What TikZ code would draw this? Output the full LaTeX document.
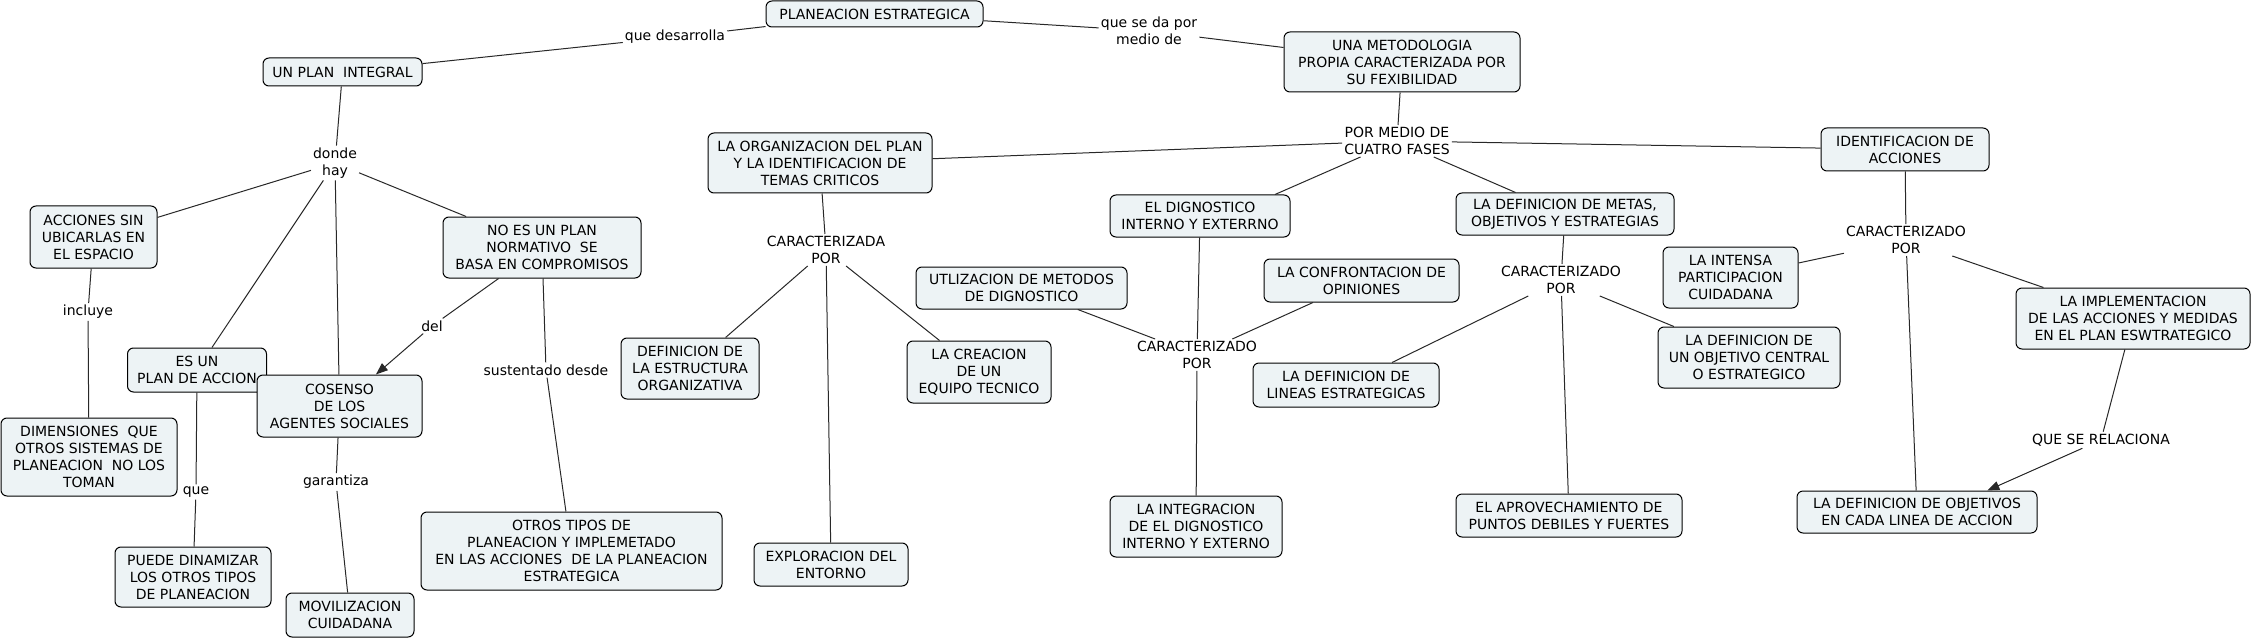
\documentclass[tikz,border=0pt]{standalone}
\usepackage{fontspec}
\setmainfont{DejaVu Sans}
\usetikzlibrary{arrows.meta}
\definecolor{boxfill}{RGB}{237,243,245}
\definecolor{linecol}{RGB}{40,40,40}
\tikzset{
  concept/.style={draw=black, line width=1pt, fill=boxfill, rounded corners=6pt,
    align=center, inner sep=1pt, font=\fontsize{14}{17}\selectfont},
  linkw/.style={inner sep=2pt, align=center, font=\fontsize{14}{17}\selectfont},
  conn/.style={draw=linecol, line width=1pt},
  arr/.style={conn, -{Triangle[length=12pt,width=9pt]}}
}
\begin{document}
\begin{tikzpicture}[x=1pt,y=-1pt]
\useasboundingbox[fill=white] (0,0) rectangle (2253,639);

% ---- concepts ----
\node[concept, minimum width=217pt, minimum height=26pt] (pe) at (874.5,14) {PLANEACION ESTRATEGICA};
\node[concept, minimum width=159pt, minimum height=28pt] (upi) at (342.5,72) {UN PLAN\ \ INTEGRAL};
\node[concept, minimum width=236pt, minimum height=60pt] (um) at (1402,62) {UNA METODOLOGIA\\PROPIA CARACTERIZADA POR\\SU FEXIBILIDAD};
\node[concept, minimum width=224pt, minimum height=60pt] (org) at (820,163) {LA ORGANIZACION DEL PLAN\\Y LA IDENTIFICACION DE\\TEMAS CRITICOS};
\node[concept, minimum width=168pt, minimum height=43pt] (ida) at (1905,149.5) {IDENTIFICACION DE\\ACCIONES};
\node[concept, minimum width=180pt, minimum height=42pt] (dig) at (1200,216) {EL DIGNOSTICO\\INTERNO Y EXTERRNO};
\node[concept, minimum width=218pt, minimum height=42pt] (dm) at (1565,214) {LA DEFINICION DE METAS,\\OBJETIVOS Y ESTRATEGIAS};
\node[concept, minimum width=127pt, minimum height=62pt] (acc) at (93.5,237) {ACCIONES SIN\\UBICARLAS EN\\EL ESPACIO};
\node[concept, minimum width=198pt, minimum height=61pt] (noes) at (542,247.5) {NO ES UN PLAN\\NORMATIVO\ \ SE\\BASA EN COMPROMISOS};
\node[concept, minimum width=139pt, minimum height=44pt] (esun) at (197,370) {ES UN\\PLAN DE ACCION};
\node[concept, minimum width=165pt, minimum height=62pt] (cos) at (339.5,406) {COSENSO\\DE LOS\\AGENTES SOCIALES};
\node[concept, minimum width=138pt, minimum height=61pt] (def) at (690,368.5) {DEFINICION DE\\LA ESTRUCTURA\\ORGANIZATIVA};
\node[concept, minimum width=176pt, minimum height=78pt] (dim) at (89,457) {DIMENSIONES\ \ QUE\\OTROS SISTEMAS DE\\PLANEACION\ \ NO LOS\\TOMAN};
\node[concept, minimum width=156pt, minimum height=60pt] (pue) at (193,577) {PUEDE DINAMIZAR\\LOS OTROS TIPOS\\DE PLANEACION};
\node[concept, minimum width=128pt, minimum height=44pt] (mov) at (350,615) {MOVILIZACION\\CUIDADANA};
\node[concept, minimum width=301pt, minimum height=78pt] (otros) at (571.5,551) {OTROS TIPOS DE\\PLANEACION Y IMPLEMETADO\\EN LAS ACCIONES\ \ DE LA PLANEACION\\ESTRATEGICA};
\node[concept, minimum width=154pt, minimum height=43pt] (expl) at (831,564.5) {EXPLORACION DEL\\ENTORNO};
\node[concept, minimum width=144pt, minimum height=62pt] (crea) at (979,372) {LA CREACION\\DE UN\\EQUIPO TECNICO};
\node[concept, minimum width=211pt, minimum height=42pt] (utl) at (1021.5,288) {UTLIZACION DE METODOS\\DE DIGNOSTICO};
\node[concept, minimum width=195pt, minimum height=43pt] (conf) at (1361.5,280.5) {LA CONFRONTACION DE\\OPINIONES};
\node[concept, minimum width=186pt, minimum height=44pt] (lin) at (1346,385) {LA DEFINICION DE\\LINEAS ESTRATEGICAS};
\node[concept, minimum width=172pt, minimum height=61pt] (integ) at (1196,526.5) {LA INTEGRACION\\DE EL DIGNOSTICO\\INTERNO Y EXTERNO};
\node[concept, minimum width=182pt, minimum height=61pt] (obj) at (1749,357.5) {LA DEFINICION DE\\UN OBJETIVO CENTRAL\\O ESTRATEGICO};
\node[concept, minimum width=226pt, minimum height=43pt] (apr) at (1569,515.5) {EL APROVECHAMIENTO DE\\PUNTOS DEBILES Y FUERTES};
\node[concept, minimum width=135pt, minimum height=61pt] (int) at (1730.5,277.5) {LA INTENSA\\PARTICIPACION\\CUIDADANA};
\node[concept, minimum width=234pt, minimum height=61pt] (impl) at (2133,318.5) {LA IMPLEMENTACION\\DE LAS ACCIONES Y MEDIDAS\\EN EL PLAN ESWTRATEGICO};
\node[concept, minimum width=240pt, minimum height=42pt] (dobj) at (1917,512) {LA DEFINICION DE OBJETIVOS\\EN CADA LINEA DE ACCION};

% ---- linking phrases ----
\node[linkw] (l1) at (675,37) {que desarrolla};
\node[linkw] (l2) at (1149,31) {que se da por\\medio de};
\node[linkw] (l3) at (1397,141) {POR MEDIO DE\\CUATRO FASES};
\node[linkw] (l4) at (335,163) {donde\\hay};
\node[linkw] (l5) at (88,312) {incluye};
\node[linkw] (l6) at (432,326) {del};
\node[linkw] (l7) at (546,370) {sustentado desde};
\node[linkw] (l8) at (196,492) {que};
\node[linkw] (l9) at (336,482) {garantiza};
\node[linkw] (l10) at (826,250) {CARACTERIZADA\\POR};
\node[linkw] (l11) at (1197,355) {CARACTERIZADO\\POR};
\node[linkw] (l12) at (1561,280) {CARACTERIZADO\\POR};
\node[linkw] (l13) at (1906,240) {CARACTERIZADO\\POR};
\node[linkw] (l14) at (2101,440) {QUE SE RELACIONA};

% ---- connectors ----
\draw[conn] (upi) -- (l1);
\draw[conn] (l1) -- (pe);
\draw[conn] (pe) -- (l2);
\draw[conn] (l2) -- (um);
\draw[conn] (um) -- (l3);
\draw[conn] (l3) -- (org);
\draw[conn] (l3) -- (ida);
\draw[conn] (l3) -- (dig.16);
\draw[conn] (l3) -- (dm);
\draw[conn] (upi) -- (l4);
\draw[conn] (l4) -- (acc);
\draw[conn] (l4) -- (esun);
\draw[conn] (l4) -- (cos);
\draw[conn] (l4) -- (noes);
\draw[conn] (acc) -- (l5);
\draw[conn] (l5) -- (dim);
\draw[conn] (noes) -- (l6);
\draw[arr] (l6) -- (cos);
\draw[conn] (noes) -- (l7);
\draw[conn] (l7) -- (otros);
\draw[conn] (esun) -- (l8);
\draw[conn] (l8) -- (pue);
\draw[conn] (cos) -- (l9);
\draw[conn] (l9) -- (mov);
\draw[conn] (org) -- (l10);
\draw[conn] (l10) -- (def);
\draw[conn] (l10) -- (expl);
\draw[conn] (l10) -- (crea);
\draw[conn] (dig) -- (l11);
\draw[conn] (l11) -- (utl);
\draw[conn] (l11) -- (conf);
\draw[conn] (l11) -- (integ);
\draw[conn] (dm) -- (l12);
\draw[conn] (l12) -- (lin);
\draw[conn] (l12) -- (obj);
\draw[conn] (l12) -- (apr);
\draw[conn] (ida) -- (l13);
\draw[conn] (l13) -- (int);
\draw[conn] (l13) -- (impl);
\draw[conn] (l13) -- (dobj);
\draw[conn] (impl) -- (l14);
\draw[arr] (l14) -- (dobj.17);
\end{tikzpicture}
\end{document}
